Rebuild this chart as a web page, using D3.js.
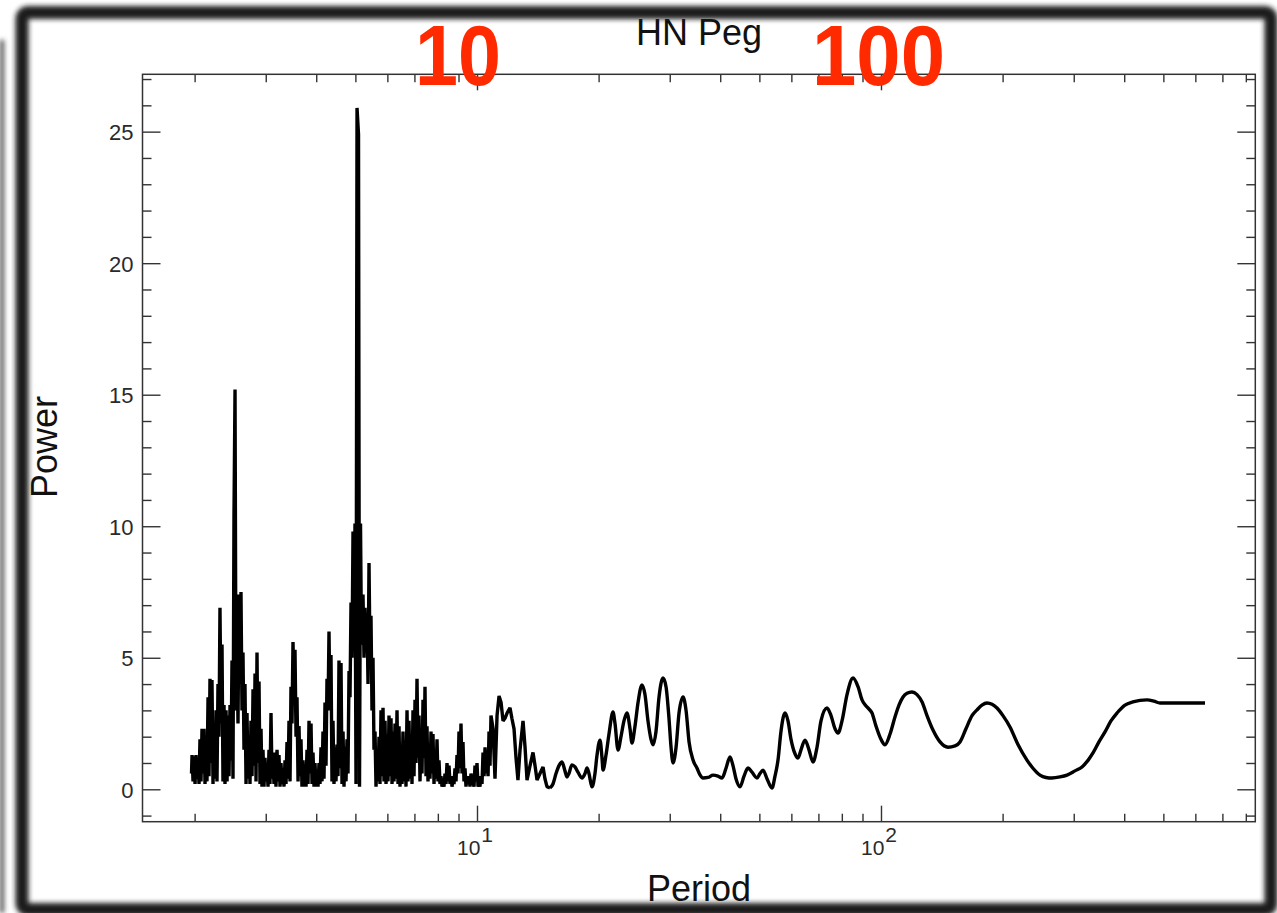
<!DOCTYPE html>
<html><head><meta charset="utf-8">
<script src="https://cdn.jsdelivr.net/npm/d3@7"></script>
<style>html,body{margin:0;padding:0;background:#fff;} svg{display:block;}</style>
</head><body><svg id="c" width="1277" height="913"></svg>
<script>
// ---------- data ----------
const chartTitle = "HN Peg";
const xAxisTitle = "Period";
const yAxisTitle = "Power";
const redLabels = ["10", "100"];

// dense, noisy part of the periodogram (period in days, power)
const densePeriod = [
1.965,1.971,1.982,1.993,2.005,2.016,2.028,2.039,2.051,2.062,2.074,2.086,2.098,2.110,2.122,2.134,2.146,2.159,2.171,
2.183,2.196,2.208,2.221,2.234,2.247,2.259,2.272,2.285,2.298,2.311,2.325,2.338,2.351,2.365,2.378,2.392,2.406,2.419,2.433,
2.447,2.461,2.475,2.489,2.503,2.518,2.532,2.547,2.561,2.576,2.590,2.605,2.620,2.635,2.650,2.665,2.681,2.696,2.711,2.727,
2.742,2.758,2.774,2.790,2.806,2.822,2.838,2.854,2.870,2.887,2.903,2.920,2.936,2.953,2.970,2.987,3.004,3.021,3.039,3.056,
3.073,3.091,3.109,3.126,3.144,3.162,3.180,3.199,3.217,3.235,3.254,3.272,3.291,3.310,3.329,3.348,3.367,3.386,3.406,3.425,
3.445,3.464,3.484,3.504,3.524,3.544,3.565,3.585,3.606,3.626,3.647,3.667,3.688,3.710,3.731,3.752,3.774,3.795,3.817,3.839,
3.860,3.883,3.905,3.927,3.950,3.972,3.995,4.018,4.041,4.064,4.087,4.110,4.134,4.157,4.181,4.205,4.229,4.253,4.278,4.302,
4.326,4.351,4.376,4.401,4.426,4.452,4.477,4.503,4.528,4.554,4.581,4.607,4.633,4.660,4.686,4.713,4.740,4.767,4.794,4.822,
4.849,4.877,4.905,4.933,4.961,4.989,5.018,5.047,5.090,5.119,5.148,5.177,5.222,5.252,5.282,5.312,5.342,5.373,5.404,
5.434,5.465,5.497,5.528,5.560,5.592,5.624,5.656,5.688,5.721,5.753,5.786,5.819,5.853,5.886,5.920,5.954,5.988,6.022,6.056,
6.091,6.126,6.161,6.196,6.231,6.267,6.303,6.339,6.375,6.412,6.448,6.485,6.522,6.559,6.597,6.634,6.672,6.711,6.749,6.788,
6.826,6.865,6.904,6.944,6.984,7.024,7.064,7.104,7.145,7.186,7.226,7.267,7.309,7.351,7.393,7.435,7.478,7.520,7.563,7.607,
7.650,7.694,7.738,7.782,7.827,7.872,7.917,7.962,8.007,8.053,8.099,8.145,8.192,8.239,8.286,8.333,8.381,8.429,8.477,8.526,
8.574,8.623,8.672,8.722,8.771,8.822,8.872,8.923,8.974,9.025,9.077,9.128,9.181,9.233,9.286,9.339,9.393,9.446,9.500,9.555,
9.609,9.664,9.719,9.775,9.831,9.887,9.944,10.00,10.06,10.12,10.17,10.23,10.29,10.35,10.41,10.47,10.53,10.59,10.65,10.71,
10.77,10.83,10.96,11.08,11.21,11.34,11.47,11.60,11.73,11.87,12.07,12.20,12.35,12.49,12.63,12.78,13.00,13.15,13.30,
13.53,13.76,13.92,14.08,14.32,14.57,14.73,14.90,15.16
];
const densePower = [
0.6,1.3,0.3,1.25,0.2,1.3,0.4,1.0,0.2,1.9,0.3,2.3,0.6,2.3,0.2,1.8,0.3,3.5,0.5,
4.2,1.0,4.15,0.2,2.3,0.4,3.0,0.3,4.0,2.0,6.9,2.5,5.5,0.3,3.2,0.2,3.0,0.3,2.8,0.5,
3.2,1.1,4.9,0.4,10.4,15.2,3.0,5.5,2.5,7.4,4.0,7.5,3.0,5.2,1.5,4.0,0.2,2.9,0.4,1.8,
0.2,2.6,0.5,3.8,0.9,4.4,0.3,5.2,1.0,4.1,0.2,2.3,0.1,1.5,0.1,1.2,0.3,0.9,0.1,1.5,
0.2,2.9,0.4,1.2,0.2,1.4,0.1,1.5,0.3,1.3,0.1,1.0,0.2,0.8,0.1,1.1,0.2,1.8,0.4,2.6,
0.3,3.9,2.5,5.6,3.5,5.3,2.0,3.5,0.3,2.4,0.5,1.9,0.1,1.1,0.1,0.5,0.1,1.5,0.2,2.6,
0.6,2.5,0.2,1.4,0.1,1.0,0.1,0.6,0.1,1.0,0.2,1.6,0.3,2.2,0.4,3.3,0.9,4.2,3.0,6.0,
3.0,5.1,0.3,2.6,0.2,1.6,0.3,1.7,0.5,4.9,0.8,4.8,0.2,2.2,0.1,1.6,0.3,1.9,0.6,4.5,
3.5,7.1,5.0,9.8,6.0,10.1,0.2,25.9,24.9,0.1,10.1,5.5,7.4,5.0,6.9,5.5,6.7,4.0,8.6,
5.0,6.6,3.0,5.0,1.5,2.2,0.1,1.3,0.3,2.0,0.2,3.0,0.5,3.1,0.3,2.6,0.2,2.1,0.3,2.8,
0.5,2.7,0.2,2.2,0.3,2.5,0.4,3.0,0.2,2.4,0.1,1.6,0.2,2.2,0.3,1.5,0.1,3.0,0.3,2.6,
0.4,2.1,0.2,3.0,0.5,3.4,1.0,4.2,1.2,2.8,0.3,1.8,0.6,3.4,1.2,3.9,0.5,2.4,0.3,1.3,
0.4,2.2,0.6,2.1,0.2,1.4,0.4,1.9,0.3,1.1,0.2,0.5,0.1,0.3,0.1,0.6,0.2,1.0,0.3,0.9,
0.2,0.5,0.1,0.4,0.2,0.8,0.3,1.3,0.6,2.2,0.8,2.5,0.6,1.8,0.3,0.8,0.1,0.5,0.2,0.5,
0.1,0.6,0.2,0.3,0.1,0.9,0.3,1.0,0.1,0.3,0.1,0.5,0.2,1.4,0.5,1.6,0.6,1.3,0.5,2.2,
0.9,2.8,2.3,0.4,2.8,3.55,3.3,2.6,2.7,2.9,3.1,2.7,2.3,1.2,0.35,1.5,2.6,1.6,0.35,
0.9,1.4,0.9,0.35,0.6,0.85,0.4,0.1,0.05
];

// smoother long-period part
const smoothPeriod = [
15.16,15.42,15.69,15.96,16.23,16.51,16.70,16.89,17.18,17.48,17.78,18.19,18.51,18.72,18.93,19.26,19.59,19.82,
20.16,20.39,20.51,20.86,21.22,21.71,21.96,22.34,22.72,23.11,23.51,23.92,24.19,24.61,25.04,25.61,26.05,26.50,26.96,27.27,
27.74,28.22,28.87,29.37,29.87,30.22,30.57,31.10,31.63,32.36,32.92,33.49,34.26,35.05,35.65,36.27,37.31,38.39,39.50,40.41,
41.34,42.29,43.02,43.76,44.77,45.81,46.86,47.94,49.33,50.18,51.05,52.22,53.73,54.66,55.60,56.55,57.86,58.86,59.88,
61.26,62.31,63.39,64.85,66.35,67.88,69.45,71.04,73.50,75.22,76.96,78.29,80.08,82.40,85.27,87.73,89.76,91.31,93.42,
95.01,97.21,100.0,102.3,105.3,108.3,110.8,113.4,116.0,119.3,122.8,126.4,130.0,134.5,140.0,146.5,152.5,156.9,162.3,
168.0,172.9,177.8,183.0,188.3,193.7,200.4,208.6,218.3,229.8,237.8,247.5,256.1,265.0,277.4,288.7,302.1,314.5,325.4,
334.8,346.4,358.5,370.9,383.9,401.8,420.4,437.6,455.4,474.0,490.5,549.7,634.0
];
const smoothPower = [
0.05,0.2,0.6,0.9,1.04,0.7,0.47,0.6,0.93,0.85,0.65,0.43,0.6,0.81,0.6,0.09,0.6,1.3,
1.87,1.2,0.73,1.3,2.1,2.94,2.5,1.49,2.0,2.6,2.9,2.3,1.76,2.4,3.3,3.97,3.6,2.6,1.9,1.69,
2.2,3.5,4.23,3.9,2.7,1.6,1.0,1.6,2.9,3.51,3.0,1.8,1.11,0.8,0.55,0.43,0.45,0.54,0.5,0.43,
0.8,1.23,0.9,0.4,0.09,0.5,0.81,0.65,0.43,0.6,0.73,0.4,0.05,0.5,1.11,2.2,2.9,2.6,1.9,
1.35,1.19,1.5,1.87,1.5,1.04,1.6,2.6,3.09,2.8,2.3,2.14,2.6,3.6,4.23,3.9,3.4,3.21,3.05,
2.9,2.4,1.9,1.69,2.1,2.75,3.2,3.51,3.65,3.7,3.6,3.32,2.8,2.25,1.8,1.6,1.65,1.8,2.3,
2.8,3.02,3.2,3.28,3.23,3.09,2.8,2.37,1.7,1.11,0.8,0.54,0.45,0.43,0.47,0.54,0.7,0.85,1.1,
1.38,1.8,2.18,2.6,2.9,3.2,3.32,3.38,3.4,3.35,3.28,3.28,3.28
];

const xMajorTicks = [10, 100];
const xMajorExponents = ["1", "2"];
const xMinorTicks = [2,3,4,5,6,7,8,9,20,30,40,50,60,70,80,90,200,300,400,500,600,700,800];
const yMajorTicks = [0,5,10,15,20,25];
const yMinorTicks = [-1,1,2,3,4,6,7,8,9,11,12,13,14,16,17,18,19,21,22,23,24,26,27];

// ---------- drawing ----------
const W = 1277, H = 913;
const L = 142.5, R = 1255.3, T = 74.3, B = 821.7;
const FONT = "'Liberation Sans', Arial, Helvetica, sans-serif";
const svg = d3.select("#c");

const defs = svg.append("defs");
const blur = defs.append("filter").attr("id","blur").attr("x","-5%").attr("y","-5%").attr("width","110%").attr("height","110%");
blur.append("feGaussianBlur").attr("stdDeviation", 2.6);

svg.append("rect").attr("width", W).attr("height", H).attr("fill", "#fff");

const x = d3.scaleLog().domain([1.486, 844.4]).range([L, R]);
const y = d3.scaleLinear().domain([-1.232, 27.18]).range([B, T]);

const tickColor = "#333";
function styleAxis(g) {
  g.select(".domain").remove();
  g.selectAll(".tick line").attr("stroke", tickColor).attr("stroke-width", 1.4);
}
// bottom axis
svg.append("g").attr("transform", `translate(0,${B})`)
  .call(d3.axisBottom(x).tickValues(xMinorTicks).tickSize(-8).tickSizeOuter(0).tickFormat(""))
  .call(styleAxis);
svg.append("g").attr("transform", `translate(0,${B})`)
  .call(d3.axisBottom(x).tickValues(xMajorTicks).tickSize(-16).tickSizeOuter(0).tickFormat(""))
  .call(styleAxis);
// top axis
svg.append("g").attr("transform", `translate(0,${T})`)
  .call(d3.axisTop(x).tickValues(xMinorTicks).tickSize(-8).tickSizeOuter(0).tickFormat(""))
  .call(styleAxis);
svg.append("g").attr("transform", `translate(0,${T})`)
  .call(d3.axisTop(x).tickValues(xMajorTicks).tickSize(-16).tickSizeOuter(0).tickFormat(""))
  .call(styleAxis);
// left axis
svg.append("g").attr("transform", `translate(${L},0)`)
  .call(d3.axisLeft(y).tickValues(yMinorTicks).tickSize(-9).tickSizeOuter(0).tickFormat(""))
  .call(styleAxis);
const gyl = svg.append("g").attr("transform", `translate(${L},0)`)
  .call(d3.axisLeft(y).tickValues(yMajorTicks).tickSize(-18).tickSizeOuter(0).tickPadding(0))
  .call(styleAxis);
gyl.selectAll(".tick text")
  .attr("x", -9).attr("dy", "0.36em")
  .attr("font-family", FONT).attr("font-size", 22).attr("fill", "#2a2a2a").attr("text-anchor", "end");
// right axis
svg.append("g").attr("transform", `translate(${R},0)`)
  .call(d3.axisRight(y).tickValues(yMinorTicks).tickSize(-9).tickSizeOuter(0).tickFormat(""))
  .call(styleAxis);
svg.append("g").attr("transform", `translate(${R},0)`)
  .call(d3.axisRight(y).tickValues(yMajorTicks).tickSize(-18).tickSizeOuter(0).tickFormat(""))
  .call(styleAxis);

// frame box
svg.append("rect").attr("x", L).attr("y", T).attr("width", R - L).attr("height", B - T)
  .attr("fill", "none").attr("stroke", "#333").attr("stroke-width", 1.5);

// x labels 10^n
xMajorTicks.forEach((v, i) => {
  const t = svg.append("text").attr("x", x(v) - 20).attr("y", 855)
    .attr("font-family", FONT).attr("font-size", 21).attr("fill", "#2a2a2a");
  t.append("tspan").text("10");
  t.append("tspan").attr("dy", -13).attr("dx", 1).text(xMajorExponents[i]);
});

// data lines
const denseData = densePeriod.map((p, i) => [p, densePower[i]]);
const smoothData = smoothPeriod.map((p, i) => [p, smoothPower[i]]);
const clip = defs.append("clipPath").attr("id", "plotclip");
clip.append("rect").attr("x", L).attr("y", T).attr("width", R - L).attr("height", B - T);

const lineDense = d3.line().x(d => x(d[0])).y(d => y(d[1])).curve(d3.curveLinear);
const lineSmooth = d3.line().x(d => x(d[0])).y(d => y(d[1])).curve(d3.curveMonotoneX);
const gLines = svg.append("g").attr("clip-path", "url(#plotclip)");
gLines.append("path").attr("d", lineDense(denseData)).attr("fill", "none")
  .attr("stroke", "#000").attr("stroke-width", 3.4).attr("stroke-linejoin", "bevel");
gLines.append("path").attr("d", lineSmooth(smoothData)).attr("fill", "none")
  .attr("stroke", "#000").attr("stroke-width", 3.4).attr("stroke-linejoin", "round");

// titles
svg.append("text").attr("x", 699).attr("y", 45).attr("text-anchor", "middle")
  .attr("font-family", FONT).attr("font-size", 36).attr("fill", "#111").text(chartTitle);
svg.append("text").attr("x", 699).attr("y", 901).attr("text-anchor", "middle")
  .attr("font-family", FONT).attr("font-size", 36).attr("fill", "#111").text(xAxisTitle);
svg.append("text").attr("transform", "translate(57,447) rotate(-90)").attr("text-anchor", "middle")
  .attr("font-family", FONT).attr("font-size", 36).attr("fill", "#111").text(yAxisTitle);

// photographic frame
const fr = svg.append("g").attr("filter", "url(#blur)");
fr.append("rect").attr("x", 22).attr("y", 12.5).attr("width", 1249).attr("height", 897)
  .attr("rx", 6).attr("fill", "none").attr("stroke", "#1a1a1a").attr("stroke-width", 13);
fr.append("line").attr("x1", 2).attr("x2", 2).attr("y1", 40).attr("y2", 913)
  .attr("stroke", "#444").attr("stroke-width", 4);

// red annotations
svg.append("text").attr("x", 415).attr("y", 85).attr("textLength", 86).attr("lengthAdjust", "spacingAndGlyphs")
  .attr("font-family", FONT).attr("font-weight", "bold").attr("font-size", 86).attr("fill", "#ff2a00").text(redLabels[0]);
svg.append("text").attr("x", 812).attr("y", 85).attr("textLength", 133).attr("lengthAdjust", "spacingAndGlyphs")
  .attr("font-family", FONT).attr("font-weight", "bold").attr("font-size", 86).attr("fill", "#ff2a00").text(redLabels[1]);
</script>
</body></html>
